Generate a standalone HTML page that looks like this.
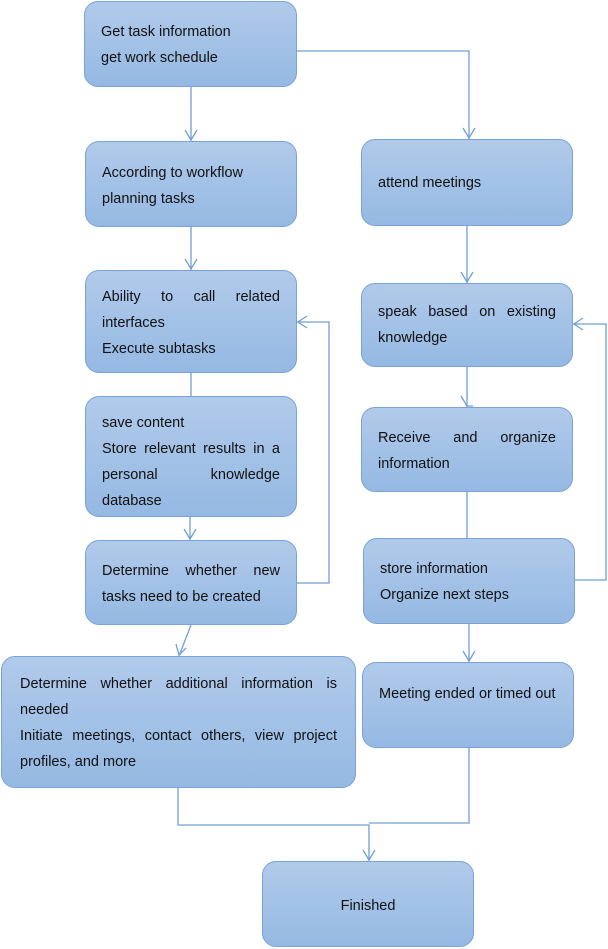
<!DOCTYPE html>
<html><head><style>
body{margin:0;width:608px;height:949px;background:#fff;position:relative;overflow:hidden;font-family:"Liberation Sans",sans-serif;}
.b{position:absolute;box-sizing:border-box;border:1.3px solid #79a3d6;border-radius:14px;background:linear-gradient(#b1caea,#95b9e3);color:#111;font-size:14.5px;line-height:26px;text-align:justify;padding:0 16px;}
.c{text-align:center}
svg{position:absolute;left:0;top:0}
</style></head><body>
<svg width="608" height="949" fill="none" stroke="#6f9fd8" stroke-width="1.3">
<path d="M297 51H469V139M191 87V141M191 227V270M191 373V396M190 517V540M297 583H329V322H297M573 580H606V324H573M467 226V283M467 367V407M467 492V538M469 624V662M191 625L179 656M178 788V825H369V861M469 748V823H369"/>
<path d="M185 130L191 140L197 130M185 259L191 269L197 259M184 529L190 539L196 529M463 128L469 138L475 128M461 272L467 282L473 272M461 396L467 406L473 406M463 651L469 661L475 651M363 850L369 860L375 850M307 316L298 322L307 328M583 318L574 324L583 330M176 644L179 655L186 648"/>
</svg>
<div class="b" style="left:84px;top:1px;width:213px;height:86px;padding-top:17px">Get task information<br>get work schedule</div>
<div class="b" style="left:85px;top:141px;width:212px;height:86px;padding-top:18px">According to workflow<br>planning tasks</div>
<div class="b" style="left:85px;top:270px;width:212px;height:103px;padding-top:13px">Ability to call related interfaces<br>Execute subtasks</div>
<div class="b" style="left:85px;top:396px;width:212px;height:121px;padding-top:13px">save content<br>Store relevant results in a personal knowledge database</div>
<div class="b" style="left:85px;top:540px;width:212px;height:85px;padding-top:17px">Determine whether new tasks need to be created</div>
<div class="b" style="left:1px;top:656px;width:355px;height:132px;padding:14px 18px 0">Determine whether additional information is needed<br>Initiate meetings, contact others, view project profiles, and more</div>
<div class="b" style="left:361px;top:139px;width:212px;height:87px;padding-top:30px">attend meetings</div>
<div class="b" style="left:361px;top:283px;width:212px;height:84px;padding-top:15px">speak based on existing knowledge</div>
<div class="b" style="left:361px;top:407px;width:212px;height:85px;padding-top:17px">Receive and organize information</div>
<div class="b" style="left:363px;top:538px;width:212px;height:86px;padding-top:17px">store information<br>Organize next steps</div>
<div class="b" style="left:362px;top:662px;width:212px;height:86px;padding-top:18px">Meeting ended or timed out</div>
<div class="b c" style="left:262px;top:861px;width:212px;height:86px;padding-top:31px">Finished</div>
</body></html>
